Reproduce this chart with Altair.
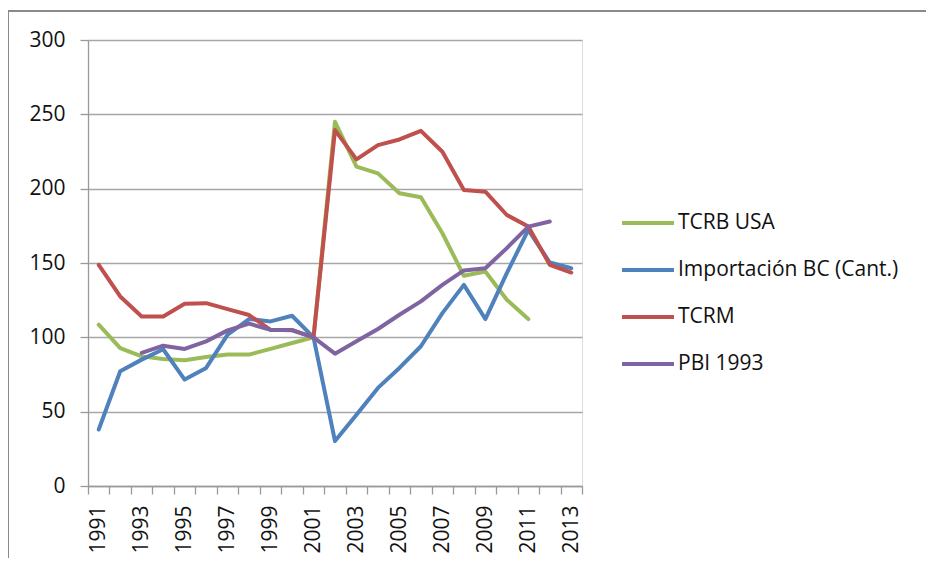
import altair as alt
import pandas as pd

years = list(range(1991, 2014))
series_names = ["TCRB USA", "Importación BC (Cant.)", "TCRM", "PBI 1993"]
series_colors = ["#9BBB59", "#4F81BD", "#C0504D", "#8064A2"]

tcrb_usa = [108.5, 92.8, 87.2, 85.5, 84.6, 86.8, 88.4, 88.4, 92.2, 96.2, 100,
            245, 214.8, 210.3, 196.9, 194.2, 170, 141.4, 144.3, 125.3, 112.3, None, None]
importacion = [38, 77.2, 85, 92, 71.6, 79.4, 101.8, 112.3, 110.7, 114.5, 100,
               30.2, 48, 66, 79.4, 94, 116.3, 135.3, 112.3, 143.2, 172.3, 150.3, 146.5]
tcrm = [148.8, 127.5, 114, 114, 122.6, 123, 119, 115, 105, 105, 100,
        239.4, 219.7, 229.3, 233.1, 238.9, 224.8, 199.1, 198, 182.3, 174.5, 148.8, 143.6]
pbi_1993 = [None, None, 89.5, 94.4, 92.2, 97.3, 104.7, 109.2, 105.1, 104.7, 100,
            89, 97.3, 105.6, 115.2, 124.2, 135.3, 145, 146.5, 160, 174.5, 177.9, None]

y_ticks = [0, 50, 100, 150, 200, 250, 300]

rows = []
for name, vals in zip(series_names, [tcrb_usa, importacion, tcrm, pbi_1993]):
    for yr, v in zip(years, vals):
        if v is not None:
            rows.append({"year": yr, "value": v, "series": name})
df = pd.DataFrame(rows)

FONT = "Open Sans"

lines = alt.Chart(df).mark_line(strokeWidth=4, strokeJoin="round", strokeCap="round").encode(
    x=alt.X("year:O",
            scale=alt.Scale(domain=years, paddingInner=0, paddingOuter=0),
            axis=alt.Axis(title=None, labelAngle=-90, labelFont=FONT, labelFontSize=21,
                          labelColor="#111", labelPadding=11,
                          labelExpr="datum.value % 2 == 1 ? datum.label : ''",
                          tickBand="extent", tickSize=8, tickColor="#999", tickWidth=1.3,
                          domainColor="#999", domainWidth=1.3, grid=False,
                          labelBaseline="middle", labelAlign="right")),
    y=alt.Y("value:Q",
            scale=alt.Scale(domain=[0, 300], nice=False),
            axis=alt.Axis(title=None, values=y_ticks, labelFont=FONT, labelFontSize=21,
                          labelColor="#111", labelPadding=15, tickSize=8, tickColor="#999",
                          tickWidth=1.3, domainColor="#999", domainWidth=1.3,
                          grid=True, gridColor="#a6a6a6", gridWidth=1.3)),
    color=alt.Color("series:N",
                    scale=alt.Scale(domain=series_names, range=series_colors),
                    sort=series_names,
                    legend=alt.Legend(title=None, orient="none", legendX=548, legendY=171,
                                      symbolType="M-2.6,0H2.6", symbolSize=400,
                                      symbolStrokeWidth=4, labelFont=FONT, labelFontSize=21,
                                      labelColor="#111", labelOffset=18, rowPadding=25,
                                      labelLimit=0, padding=0)),
    order=alt.Order("year:O"),
)

frame_src = alt.Chart(alt.Data(values=[{"a": 1}]))
frame_top = frame_src.mark_rule(stroke="#8a8a8a", strokeWidth=2).encode(
    x=alt.value(-81), x2=alt.value(1400), y=alt.value(-29)
)
frame_left = frame_src.mark_rule(stroke="#8a8a8a", strokeWidth=2).encode(
    x=alt.value(-80), y=alt.value(-30), y2=alt.value(900)
)

chart = alt.layer(frame_top, frame_left, lines).properties(
    width=494, height=446,
    autosize=alt.AutoSizeParams(type="none"),
    padding={"left": 80, "top": 32, "right": 344, "bottom": 72},
).configure_view(stroke=None).configure(background="white")

chart.save("out.html", embed_options={"renderer": "svg", "actions": False})
